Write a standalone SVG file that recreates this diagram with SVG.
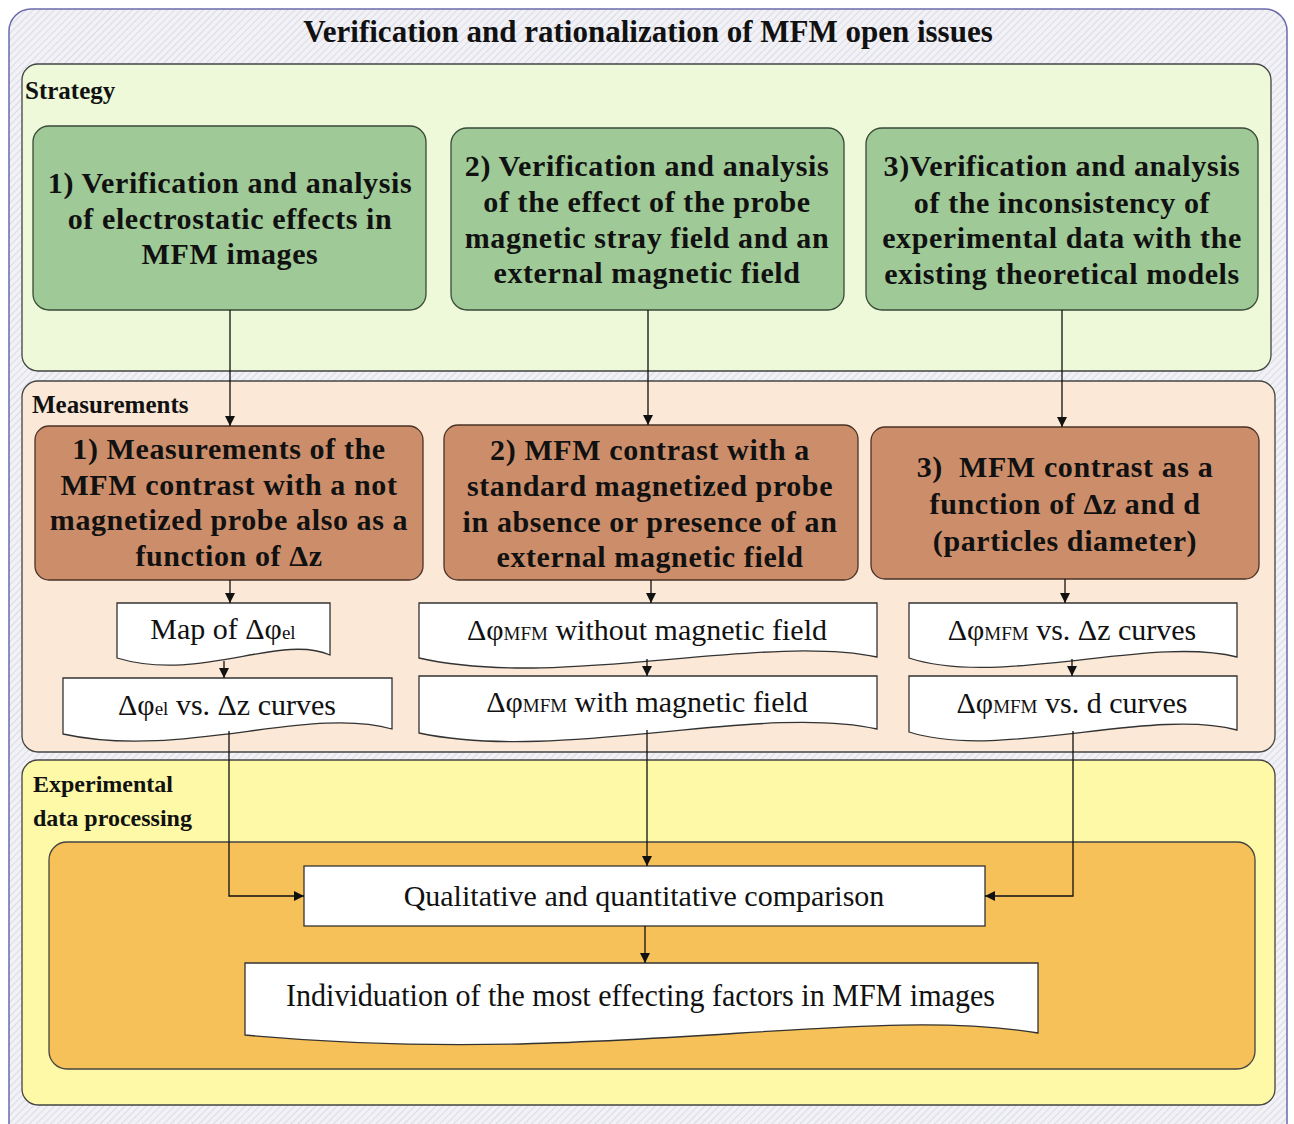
<svg xmlns="http://www.w3.org/2000/svg" width="1294" height="1124" viewBox="0 0 1294 1124">
<defs>
<pattern id="hatch" width="5" height="5" patternUnits="userSpaceOnUse" patternTransform="rotate(45)">
<rect width="5" height="5" fill="#f1f1f6"/>
<line x1="0" y1="0" x2="0" y2="5" stroke="#d6d6e2" stroke-width="1.6"/>
</pattern>
<marker id="arr" viewBox="0 0 10 10" refX="10" refY="5" markerWidth="10" markerHeight="10" markerUnits="userSpaceOnUse" orient="auto">
<path d="M0,0 L10,5 L0,10 Z" fill="#111"/>
</marker>
<style>
.panel{stroke:#444;stroke-width:1.3}
.bold{font-family:"Liberation Serif","Times New Roman",serif;font-weight:bold;fill:#111}
.reg{font-family:"Liberation Serif","Times New Roman",serif;fill:#111}
.green{fill:#9fc996;stroke:#3a4a38;stroke-width:1.3}
.brown{fill:#cc8e6a;stroke:#4a3226;stroke-width:1.3}
.doc{fill:#fff;stroke:#333;stroke-width:1.3}
.conn{fill:none;stroke:#111;stroke-width:1.3}
.box{font-size:30px;letter-spacing:0.6px;text-anchor:middle}
.dt{font-size:30px;text-anchor:middle}
.sub{font-size:19px}
.lbl{font-size:25px}
</style>
</defs>

<g id="frame">
<rect x="9" y="9" width="1278" height="1140" rx="22" fill="url(#hatch)" stroke="#6a6aaa" stroke-width="1.5"/>
<text class="bold" x="648" y="42" font-size="31" text-anchor="middle">Verification and rationalization of MFM open issues</text>
</g>

<g id="strategy">
<rect class="panel" x="22" y="64" width="1249" height="307" rx="16" fill="#edf9d8"/>
<text class="bold lbl" x="25" y="99">Strategy</text>
</g>

<g id="measurements">
<rect class="panel" x="22" y="381" width="1253" height="371" rx="16" fill="#fbe8d6"/>
<text class="bold lbl" x="32" y="413">Measurements</text>
</g>

<g id="processing">
<rect class="panel" x="22" y="760" width="1253" height="345" rx="16" fill="#fdf9a6"/>
<text class="bold" x="33" y="792" font-size="24">Experimental</text>
<text class="bold" x="33" y="826" font-size="24">data processing</text>
<rect class="panel" x="49" y="842" width="1206" height="227" rx="18" fill="#f6c158"/>
</g>

<g id="s1">
<rect class="green" x="33" y="126" width="393" height="184" rx="16"/>
<text class="bold box" x="230" y="193">1) Verification and analysis</text>
<text class="bold box" x="230" y="229">of electrostatic effects in</text>
<text class="bold box" x="230" y="264">MFM images</text>
</g>
<g id="s2">
<rect class="green" x="451" y="128" width="393" height="182" rx="16"/>
<text class="bold box" x="647" y="176">2) Verification and analysis</text>
<text class="bold box" x="647" y="212">of the effect of the probe</text>
<text class="bold box" x="647" y="248">magnetic stray field and an</text>
<text class="bold box" x="647" y="283">external magnetic field</text>
</g>
<g id="s3">
<rect class="green" x="866" y="128" width="392" height="182" rx="16"/>
<text class="bold box" x="1062" y="176">3)Verification and analysis</text>
<text class="bold box" x="1062" y="213">of the inconsistency of</text>
<text class="bold box" x="1062" y="248">experimental data with the</text>
<text class="bold box" x="1062" y="284">existing theoretical models</text>
</g>

<g id="m1">
<rect class="brown" x="35" y="426" width="388" height="154" rx="14"/>
<text class="bold box" x="229" y="459">1) Measurements of the</text>
<text class="bold box" x="229" y="495">MFM contrast with a not</text>
<text class="bold box" x="229" y="530">magnetized probe also as a</text>
<text class="bold box" x="229" y="566">function of Δz</text>
</g>
<g id="m2">
<rect class="brown" x="444" y="425" width="414" height="155" rx="14"/>
<text class="bold box" x="650" y="460">2) MFM contrast with a</text>
<text class="bold box" x="650" y="496">standard magnetized probe</text>
<text class="bold box" x="650" y="532">in absence or presence of an</text>
<text class="bold box" x="650" y="567">external magnetic field</text>
</g>
<g id="m3">
<rect class="brown" x="871" y="427" width="388" height="152" rx="14"/>
<text class="bold box" x="1065" y="477" xml:space="preserve">3)  MFM contrast as a</text>
<text class="bold box" x="1065" y="514">function of Δz and d</text>
<text class="bold box" x="1065" y="551">(particles diameter)</text>
</g>

<g id="d1">
<path class="doc" d="M117,603 H330 V655 C280,633 200,683 117,658 Z"/>
<text class="reg dt" x="223" y="639">Map of Δφ<tspan class="sub">el</tspan></text>
</g>
<g id="d2">
<path class="doc" d="M63,678 H392 V729 C310,705 180,760 63,734 Z"/>
<text class="reg dt" x="227" y="715">Δφ<tspan class="sub">el</tspan> vs. Δz curves</text>
</g>
<g id="d3">
<path class="doc" d="M419,603 H877 V657 C760,633 560,690 419,658 Z"/>
<text class="reg dt" x="647" y="640">Δφ<tspan class="sub">MFM</tspan> without magnetic field</text>
</g>
<g id="d4">
<path class="doc" d="M419,676 H877 V729 C760,703 560,763 419,733 Z"/>
<text class="reg dt" x="647" y="712">Δφ<tspan class="sub">MFM</tspan> with magnetic field</text>
</g>
<g id="d5">
<path class="doc" d="M909,603 H1237 V657 C1150,635 1000,688 909,658 Z"/>
<text class="reg dt" x="1072" y="640">Δφ<tspan class="sub">MFM</tspan> vs. Δz curves</text>
</g>
<g id="d6">
<path class="doc" d="M909,676 H1237 V730 C1150,707 1000,761 909,732 Z"/>
<text class="reg dt" x="1072" y="713">Δφ<tspan class="sub">MFM</tspan> vs. d curves</text>
</g>

<g id="compare">
<rect class="doc" x="304" y="866" width="681" height="60"/>
<text class="reg" x="644" y="906" font-size="30" text-anchor="middle">Qualitative and quantitative comparison</text>
</g>
<g id="result">
<path class="doc" d="M245,963 H1038 V1033 C860,1003 600,1068 245,1035 Z"/>
<text class="reg" x="286" y="1006" font-size="31" textLength="709" lengthAdjust="spacingAndGlyphs">Individuation of the most effecting factors in MFM images</text>
</g>

<g id="connectors">
<path class="conn" d="M230,310 V426" marker-end="url(#arr)"/>
<path class="conn" d="M648,310 V425" marker-end="url(#arr)"/>
<path class="conn" d="M1062,310 V427" marker-end="url(#arr)"/>
<path class="conn" d="M230,580 V603" marker-end="url(#arr)"/>
<path class="conn" d="M224,661 V678" marker-end="url(#arr)"/>
<path class="conn" d="M651,580 V603" marker-end="url(#arr)"/>
<path class="conn" d="M647,659 V676" marker-end="url(#arr)"/>
<path class="conn" d="M1065,579 V603" marker-end="url(#arr)"/>
<path class="conn" d="M1072,659 V676" marker-end="url(#arr)"/>
<path class="conn" d="M229,731 V896 H304" marker-end="url(#arr)"/>
<path class="conn" d="M647,730 V866" marker-end="url(#arr)"/>
<path class="conn" d="M1073,731 V896 H985" marker-end="url(#arr)"/>
<path class="conn" d="M645,926 V963" marker-end="url(#arr)"/>
</g>
</svg>
